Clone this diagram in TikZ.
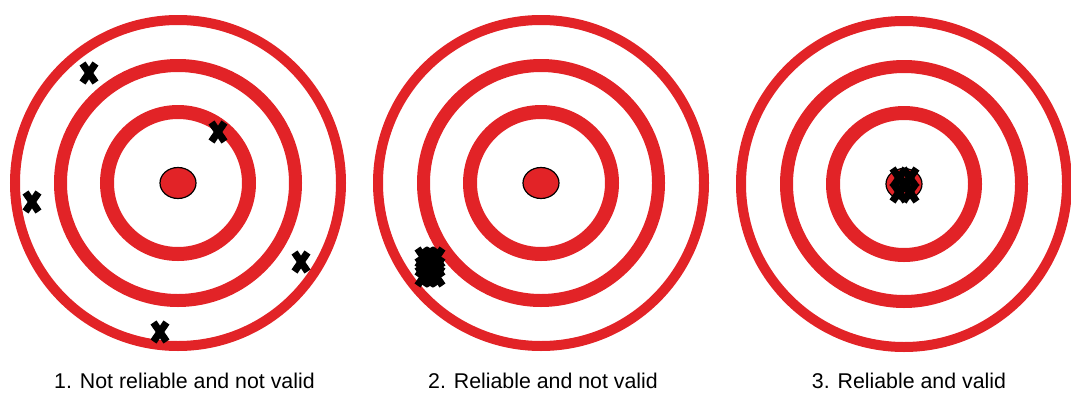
\documentclass[tikz,border=0pt]{standalone}
\usepackage{fontspec}
\setmainfont{Liberation Sans}
\definecolor{targetred}{RGB}{226,35,39}
\tikzset{
  ringline/.style={draw=targetred, line width=#1},
  bull/.style={fill=targetred, draw=black, line width=0.9pt},
  hitmark/.style={draw=black, line width=5.4pt},
  caption/.style={anchor=base, inner sep=0pt, font=\fontsize{16}{19}\selectfont}
}
\newcommand{\hitx}[1]{\draw[hitmark] (#1) +(-6.5,-9.5) -- +(6.5,9.5) +(-6.5,9.5) -- +(6.5,-9.5);}

\begin{document}
\begin{tikzpicture}[x=0.75pt, y=-0.75pt]
\useasboundingbox (0,0) rectangle (1071,393);

% TARGETS
\coordinate (t1) at (178,183);
\coordinate (t2) at (541,183);
\coordinate (t3) at (904,184);

\foreach \t in {t1,t2,t3}{
  \draw[ringline=7.5pt]  (\t) circle (163);
  \draw[ringline=9.75pt] (\t) circle (117.5);
  \draw[ringline=10.5pt] (\t) circle (71);
  \draw[bull] (\t) ellipse [x radius=18, y radius=15.5];
}

% HITS
\hitx{89,73}   % scattered, target 1
\hitx{218,132}
\hitx{32,202}
\hitx{301,262}
\hitx{160,332}

\hitx{424,258} % grouped off centre, target 2
\hitx{436,258}
\hitx{424,276}
\hitx{436,276}
\hitx{430,267}
\hitx{424,267}
\hitx{436,267}
\hitx{430,258}
\hitx{430,276}

\hitx{899,178} % grouped on centre, target 3
\hitx{910,178}
\hitx{899,192}
\hitx{910,192}
\hitx{905,185}

% CAPTIONS
\node[caption] (cap1) at (184.5,388) {1. Not reliable and not valid};
\node[caption] (cap2) at (543,388)   {2. Reliable and not valid};
\node[caption] (cap3) at (909,388)   {3. Reliable and valid};

\end{tikzpicture}
\end{document}
